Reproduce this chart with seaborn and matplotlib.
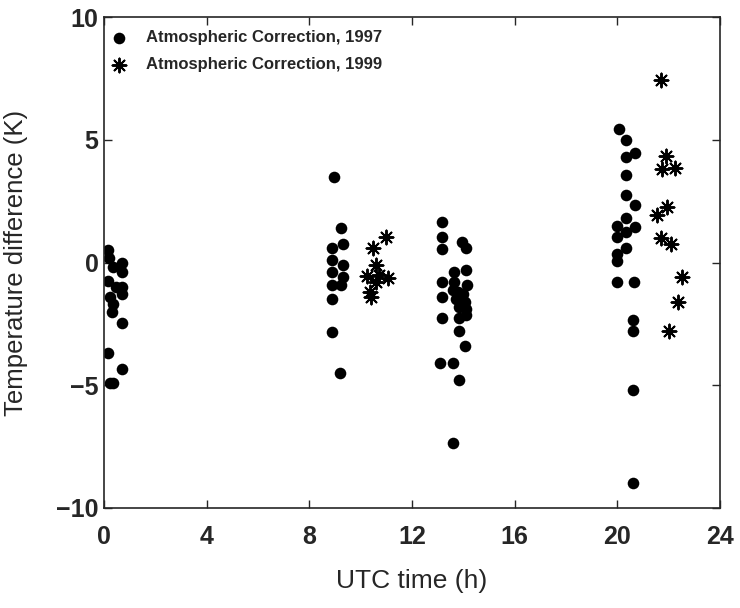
import matplotlib
matplotlib.use("Agg")
import matplotlib.pyplot as plt
import seaborn as sns
import pandas as pd

# values: UTC hour and temperature difference (K)
x_1997 = [0.15, 0.2, 0.7, 0.35, 0.7, 0.15, 0.7, 0.7, 0.45, 0.25, 0.35, 0.3, 0.7, 0.15, 0.7, 0.25, 0.35,
          8.95, 9.25, 9.3, 8.9, 8.9, 9.3, 8.9, 9.3, 8.9, 9.25, 8.9, 8.9, 9.2,
          13.15, 13.15, 13.15, 13.95, 14.1, 14.1, 13.65, 13.15, 13.15, 13.65, 14.15, 13.6, 13.8, 14.0,
          13.7, 14.05, 13.85, 14.1, 13.85, 14.1, 13.15, 13.85, 14.05, 13.1, 13.6, 13.85, 13.6,
          20.05, 20.35, 20.35, 20.7, 20.35, 20.35, 20.7, 20.35, 20.0, 20.7, 20.0, 20.35, 20.35, 20.0,
          20.0, 20.0, 20.65, 20.6, 20.6, 20.6, 20.6]
y_1997 = [0.5, 0.2, 0.0, -0.2, -0.4, -0.75, -1.0, -1.3, -1.0, -1.4, -1.7, -2.0, -2.45, -3.7, -4.35, -4.9, -4.9,
          3.5, 1.4, 0.75, 0.6, 0.1, -0.1, -0.4, -0.6, -0.9, -0.9, -1.5, -2.85, -4.5,
          1.65, 1.05, 0.55, 0.85, 0.6, -0.3, -0.4, -0.8, -1.4, -0.8, -0.9, -1.1, -1.2, -1.3,
          -1.5, -1.6, -1.8, -1.9, -2.25, -2.15, -2.25, -2.8, -3.4, -4.1, -4.1, -4.8, -7.35,
          5.45, 5.0, 4.3, 4.45, 3.55, 2.75, 2.35, 1.8, 1.5, 1.45, 1.05, 1.25, 0.6, 0.35,
          0.05, -0.8, -0.8, -2.35, -2.8, -5.2, -9.0]

x_1999 = [11.0, 10.5, 10.6, 10.25, 10.7, 11.05, 10.6, 10.35, 10.4,
          21.7, 21.9, 21.75, 22.25, 21.55, 21.95, 21.7, 22.1, 22.5, 22.35, 22.0]
y_1999 = [1.05, 0.6, -0.1, -0.55, -0.5, -0.65, -0.8, -1.2, -1.4,
          7.45, 4.35, 3.8, 3.85, 1.95, 2.25, 1.0, 0.75, -0.6, -1.6, -2.8]

label_1997 = "Atmospheric Correction, 1997"
label_1999 = "Atmospheric Correction, 1999"

df97 = pd.DataFrame({"t": x_1997, "dT": y_1997})
df99 = pd.DataFrame({"t": x_1999, "dT": y_1999})

sns.set_style("ticks")
plt.rcParams["font.family"] = ["Liberation Sans", "DejaVu Sans"]
plt.rcParams["xtick.direction"] = "in"
plt.rcParams["ytick.direction"] = "in"

fig = plt.figure(figsize=(7.4, 6.08), dpi=100)
ax = fig.add_axes([0.1405, 0.1645, 0.8325, 0.8075])

sns.scatterplot(data=df97, x="t", y="dT", ax=ax, color="black", marker="o",
                s=70, edgecolor="black", linewidth=0, label=label_1997)
sns.scatterplot(data=df99, x="t", y="dT", ax=ax, color="black", marker=(8, 2, 0),
                s=100, linewidth=1.4, label=label_1999)

ax.set_xlim(0, 24)
ax.set_ylim(-10, 10)
ax.set_xticks([0, 4, 8, 12, 16, 20, 24])
ax.set_yticks([-10, -5, 0, 5, 10])
ax.tick_params(top=True, right=True, length=6, width=1, labelsize=18)
ax.tick_params(axis="x", pad=12)
ax.tick_params(axis="y", pad=4)
for lab in ax.get_xticklabels() + ax.get_yticklabels():
    lab.set_fontweight("bold")
for sp in ax.spines.values():
    sp.set_linewidth(1.2)

ax.set_xlabel("UTC time (h)", fontsize=19, labelpad=15)
ax.set_ylabel("Temperature difference (K)", fontsize=18.5, labelpad=20)

leg = ax.legend(loc="upper left", frameon=False, fontsize=12, handletextpad=0.6,
                borderaxespad=0.4, bbox_to_anchor=(-0.024, 1.0), labelspacing=0.7)
for t in leg.get_texts():
    t.set_fontweight("bold")

fig.savefig("out.png", dpi=100)
